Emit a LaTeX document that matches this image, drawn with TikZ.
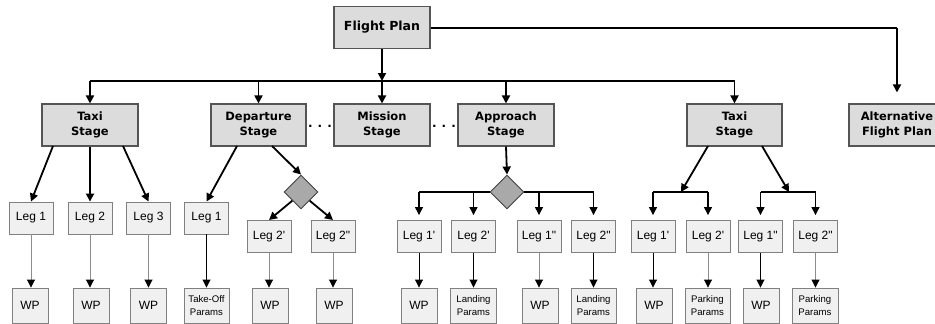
\documentclass[tikz,border=0pt]{standalone}
\usepackage{fontspec}
\setmainfont{Liberation Sans}
\newfontfamily\armfont{Liberation Sans}
\newfontfamily\stagefont{DejaVu Sans}
\usetikzlibrary{arrows.meta,shapes.geometric}
\definecolor{stagefill}{HTML}{DCDCDC}
\definecolor{stageline}{HTML}{555555}
\definecolor{legfill}{HTML}{F0F0F0}
\definecolor{legline}{HTML}{808080}
\definecolor{diafill}{HTML}{A9A9A9}
\definecolor{thinline}{HTML}{8C8C8C}
\tikzset{
  stagebox/.style={draw=stageline, fill=stagefill, line width=1.1pt, inner sep=0pt,
    minimum height=42pt, align=center,
    font=\stagefont\bfseries\fontsize{11.5}{15.5}\selectfont},
  legbox/.style={draw=legline, fill=legfill, line width=0.9pt, inner sep=0pt,
    minimum width=44pt, minimum height=32pt, font=\armfont\fontsize{12}{14}\selectfont},
  wpbox/.style={draw=legline, fill=legfill, line width=0.9pt, inner sep=0pt,
    minimum width=36pt, minimum height=35pt, align=center, font=\armfont\fontsize{12}{14}\selectfont},
  parbox/.style={wpbox, minimum width=45pt, font=\armfont\fontsize{9.6}{13}\selectfont},
  dia/.style={diamond, draw=black!75, fill=diafill, line width=0.9pt, inner sep=0pt,
    minimum width=34pt, minimum height=34pt},
  thick arrow/.style={line width=1.8pt, -{Triangle[length=8pt,width=8pt]}},
  bus/.style={line width=1.8pt},
  mid arrow/.style={line width=1.3pt, -{Triangle[length=8pt,width=8pt]}},
  midline/.style={line width=1.3pt},
  thin arrow/.style={line width=0.9pt, -{Triangle[length=8pt,width=8pt]}},
  gray arrow/.style={line width=0.9pt, draw=thinline, -{Triangle[length=8pt,width=8pt,color=black]}},
  dots/.style={font=\stagefont\bfseries\fontsize{12}{14}\selectfont}
}
\begin{document}
\begin{tikzpicture}[x=1pt,y=-1pt]
\useasboundingbox (0,0) rectangle (935,324);
% top level
\node[stagebox, minimum width=96pt, font=\stagefont\bfseries\fontsize{12.5}{15}\selectfont] (fp) at (382,27.5) {Flight Plan};
\node[stagebox, minimum width=96pt] (taxi1) at (90,125) {Taxi\\Stage};
\node[stagebox, minimum width=95pt] (dep) at (258.5,125) {Departure\\Stage};
\node[stagebox, minimum width=96pt] (mis) at (382,125) {Mission\\Stage};
\node[stagebox, minimum width=96pt] (app) at (506,125) {Approach\\Stage};
\node[stagebox, minimum width=95pt] (taxi2) at (734.5,125) {Taxi\\Stage};
\node[stagebox, minimum width=96pt] (alt) at (897,125) {Alternative\\Flight Plan};
\node[dots] (dots1) at (320,126) {.\kern5pt.\kern5pt.};
\node[dots] (dots2) at (444,126) {.\kern5pt.\kern5pt.};
% connectors top
\coordinate (busc) at (382,81);
\coordinate (altc) at (897,28);
\draw[bus] (fp.east |- altc) -- (altc);
\draw[thick arrow, shorten >=11pt] (altc) -- (alt.north);
\draw[thick arrow] (fp.south) -- (busc);
\coordinate (busl) at (90,81);
\coordinate (busr) at (734.5,81);
\draw[bus] (busl) -- (busr);
\draw[thick arrow] (busl) -- (taxi1.north);
\draw[thick arrow] (dep.north |- busc) -- (dep.north);
\draw[thick arrow] (busc) -- (mis.north);
\draw[thick arrow] (app.north |- busc) -- (app.north);
\draw[thick arrow] (busr) -- (taxi2.north);
% Taxi stage 1
\node[legbox] (l11) at (31,218) {Leg 1};
\node[legbox] (l12) at (90,218) {Leg 2};
\node[legbox] (l13) at (148.5,218) {Leg 3};
\node[wpbox] (w11) at (30,305.5) {WP};
\node[wpbox] (w12) at (91,305.5) {WP};
\node[wpbox] (w13) at (148.5,305.5) {WP};
\draw[thick arrow] (53,146) -- (l11.north);
\draw[thick arrow] (taxi1.south) -- (l12.north);
\draw[thick arrow] (123,146) -- (l13.north);
\draw[gray arrow] (l11.south) -- (l11.south |- w11.north);
\draw[gray arrow] (l12.south) -- (l12.south |- w12.north);
\draw[gray arrow] (l13.south) -- (l13.south |- w13.north);
% Departure
\node[legbox] (l21) at (206.5,218) {Leg 1};
\node[dia] (d1) at (301,192) {};
\node[legbox] (l22) at (269,236.5) {Leg 2'};
\node[legbox] (l23) at (333,236.5) {Leg 2"};
\node[parbox] (w21) at (206.5,305.5) {Take-Off\\Params};
\node[wpbox] (w22) at (270,305.5) {WP};
\node[wpbox] (w23) at (334,305.5) {WP};
\draw[thick arrow] (237,146) -- (l21.north);
\draw[thick arrow] (272,146) -- (d1.north);
\draw[thick arrow] (d1.south west) -- (l22.north);
\draw[thick arrow] (d1.south east) -- (l23.north);
\draw[thin arrow] (l21.south) -- (w21.north);
\draw[gray arrow] (l22.south) -- (l22.south |- w22.north);
\draw[gray arrow] (l23.south) -- (l23.south |- w23.north);
% Approach
\node[dia] (d2) at (507,192) {};
\node[legbox] (l31) at (419,236.5) {Leg 1'};
\node[legbox] (l32) at (473.5,236.5) {Leg 2'};
\node[legbox] (l33) at (539,236.5) {Leg 1"};
\node[legbox] (l34) at (593.5,236.5) {Leg 2"};
\node[wpbox] (w31) at (419,305.5) {WP};
\node[parbox, minimum width=46pt] (w32) at (473.5,305.5) {Landing\\Params};
\node[wpbox] (w33) at (540,305.5) {WP};
\node[parbox] (w34) at (593.5,305.5) {Landing\\Params};
\draw[thick arrow] (app.south) -- (d2.north);
\draw[midline] (l31.north |- d2) -- (d2.west);
\draw[midline] (d2.east) -- (l34.north |- d2);
\draw[mid arrow, shorten >=5pt] (l31.north |- d2) -- (l31.north);
\draw[mid arrow, shorten >=5pt] (l32.north |- d2) -- (l32.north);
\draw[mid arrow, shorten >=5pt] (l33.north |- d2) -- (l33.north);
\draw[mid arrow, shorten >=5pt] (l34.north |- d2) -- (l34.north);
\draw[thin arrow] (l31.south) -- (l31.south |- w31.north);
\draw[thin arrow] (l32.south) -- (l32.south |- w32.north);
\draw[gray arrow] (l33.south) -- (l33.south |- w33.north);
\draw[thin arrow] (l34.south) -- (l34.south |- w34.north);
% Taxi stage 2
\node[legbox] (l41) at (653,236.5) {Leg 1'};
\node[legbox] (l42) at (708,236.5) {Leg 2'};
\node[legbox] (l43) at (760.5,236.5) {Leg 1"};
\node[legbox] (l44) at (815.5,236.5) {Leg 2"};
\node[wpbox] (w41) at (654,305.5) {WP};
\node[parbox] (w42) at (707.5,305.5) {Parking\\Params};
\node[wpbox] (w43) at (761,305.5) {WP};
\node[parbox, minimum width=46pt] (w44) at (815,305.5) {Parking\\Params};
\coordinate (b41) at (681,192);
\coordinate (b42) at (789,192);
\draw[thick arrow] (708,146) -- (b41);
\draw[thick arrow] (762,146) -- (b42);
\draw[midline] (l41.north |- b41) -- (l42.north |- b41);
\draw[midline] (l43.north |- b42) -- (l44.north |- b42);
\draw[mid arrow, shorten >=5pt] (l41.north |- b41) -- (l41.north);
\draw[mid arrow, shorten >=5pt] (l42.north |- b41) -- (l42.north);
\draw[mid arrow, shorten >=5pt] (l43.north |- b42) -- (l43.north);
\draw[mid arrow, shorten >=5pt] (l44.north |- b42) -- (l44.north);
\draw[thin arrow] (l41.south) -- (l41.south |- w41.north);
\draw[gray arrow] (l42.south) -- (l42.south |- w42.north);
\draw[thin arrow] (l43.south) -- (l43.south |- w43.north);
\draw[gray arrow] (l44.south) -- (l44.south |- w44.north);
\end{tikzpicture}
\end{document}
